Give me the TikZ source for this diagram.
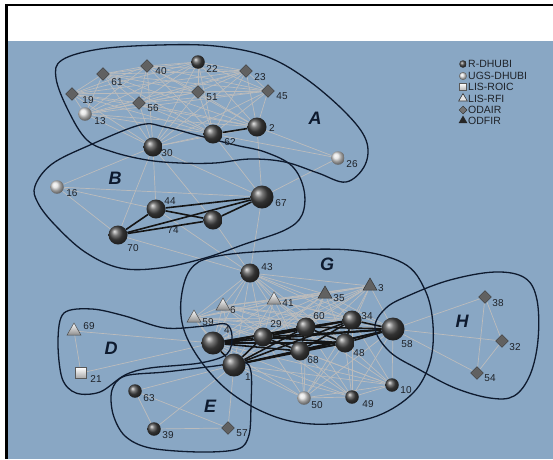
\documentclass[tikz,border=0pt]{standalone}
\usepackage{fontspec}
\setmainfont{Liberation Sans}
\usetikzlibrary{shapes.geometric}
\definecolor{bgblue}{RGB}{137,167,196}
\definecolor{hullc}{RGB}{14,26,46}
\definecolor{edgeg}{RGB}{188,188,188}
\definecolor{numc}{RGB}{30,34,40}
\pgfdeclarelayer{bg}
\pgfdeclarelayer{edges}
\pgfdeclarelayer{hulls}
\pgfsetlayers{bg,edges,hulls,main}
\tikzset{
  ballS/.style={circle, inner sep=0pt, minimum size=13.5pt, shading=ball, ball color=black!72},
  ballM/.style={circle, inner sep=0pt, minimum size=19pt, shading=ball, ball color=black!72},
  ballL/.style={circle, inner sep=0pt, minimum size=23pt, shading=ball, ball color=black!72},
  wballS/.style={circle, inner sep=0pt, minimum size=13.5pt, shading=ball, ball color=white!75!gray},
  dia/.style={diamond, inner sep=0pt, minimum size=13pt, fill=black!62, draw=black!78, line width=0.4pt},
  triL/.style={regular polygon, regular polygon sides=3, inner sep=0pt, minimum size=16pt, draw=black!70, line width=0.5pt, top color=white, bottom color=black!45},
  triD/.style={regular polygon, regular polygon sides=3, inner sep=0pt, minimum size=16pt, draw=black!80, line width=0.5pt, fill=black!62},
  sqL/.style={rectangle, inner sep=0pt, minimum size=11pt, draw=black!65, line width=0.5pt, top color=white, bottom color=black!35},
  num/.style={font=\fontsize{10}{10}\selectfont, text=numc, inner sep=0pt},
  clab/.style={font=\fontsize{18}{18}\selectfont\bfseries\itshape, text=hullc, inner sep=0pt},
  legt/.style={font=\fontsize{10.5}{10.5}\selectfont, text=numc, inner sep=0pt, anchor=west},
  ge/.style={draw=edgeg, line width=0.7pt},
  be/.style={draw=black!92, line width=1.6pt},
  hull/.style={draw=hullc, line width=1.3pt},
}
\begin{document}
\begin{tikzpicture}[x=1pt,y=-1pt]
\useasboundingbox (0,0) rectangle (553,459);
% ---------------- nodes ----------------
% A
\node[dia] (n61) at (103,74) {};
\node[dia] (n40) at (147,66) {};
\node[ballS] (n22) at (198,62) {};
\node[dia] (n23) at (246,71) {};
\node[dia] (n19) at (72,94) {};
\node[dia] (n51) at (198,92) {};
\node[dia] (n45) at (268,91) {};
\node[dia] (n56) at (139,103) {};
\node[wballS] (n13) at (85,114) {};
\node[ballM] (n62) at (213,134) {};
\node[ballM] (n2) at (257,127) {};
\node[ballM] (n30) at (153,147) {};
\node[wballS] (n26) at (338,158) {};
% B
\node[wballS] (n16) at (57,187) {};
\node[ballM] (n44) at (156,209) {};
\node[ballL] (n67) at (262,197) {};
\node[ballM] (n74) at (213,220) {};
\node[ballM] (n70) at (118,235) {};
% G
\node[ballM] (n43) at (250,273) {};
\node[triL] (n6) at (223,306) {};
\node[triL] (n41) at (274,300) {};
\node[triD] (n35) at (325,294) {};
\node[triD] (n3) at (370,286) {};
\node[triL] (n59) at (194,318) {};
\node[ballL] (n4) at (213,343) {};
\node[ballM] (n29) at (263,337) {};
\node[ballM] (n60) at (306,327) {};
\node[ballM] (n34) at (352,320) {};
\node[ballL] (n58) at (393,329) {};
\node[ballM] (n68) at (300,351) {};
\node[ballM] (n48) at (345,343) {};
\node[ballL] (n1) at (234,365) {};
\node[wballS] (n50) at (304,398) {};
\node[ballS] (n49) at (352,397) {};
\node[ballS] (n10) at (392,385) {};
% D
\node[triL] (n69) at (74,331) {};
\node[sqL] (n21) at (81,373) {};
% E
\node[ballS] (n63) at (135,391) {};
\node[ballS] (n39) at (154,429) {};
\node[dia] (n57) at (228,428) {};
% H
\node[dia] (n38) at (485,297) {};
\node[dia] (n32) at (502,341) {};
\node[dia] (n54) at (477,373) {};
% ---------------- number labels ----------------
\node[num] (l61) at (117,82) {61};
\node[num] (l40) at (161,71) {40};
\node[num] (l22) at (212,69) {22};
\node[num] (l23) at (260,77) {23};
\node[num] (l19) at (88,100) {19};
\node[num] (l51) at (212,97) {51};
\node[num] (l45) at (282,96) {45};
\node[num] (l56) at (153,108) {56};
\node[num] (l13) at (100,121) {13};
\node[num] (l62) at (230,142) {62};
\node[num] (l2) at (272,128) {2};
\node[num] (l30) at (167,153) {30};
\node[num] (l26) at (352,164) {26};
\node[num] (l16) at (72,193) {16};
\node[num] (l44) at (170,201) {44};
\node[num] (l67) at (281,203) {67};
\node[num] (l74) at (173,230) {74};
\node[num] (l70) at (133,248) {70};
\node[num] (l43) at (267,267) {43};
\node[num] (l6) at (233,310) {6};
\node[num] (l41) at (288,303) {41};
\node[num] (l35) at (339,298) {35};
\node[num] (l3) at (381,288) {3};
\node[num] (l59) at (208,322) {59};
\node[num] (l4) at (227,330) {4};
\node[num] (l29) at (276,324) {29};
\node[num] (l60) at (319,316) {60};
\node[num] (l34) at (367,316) {34};
\node[num] (l58) at (407,344) {58};
\node[num] (l68) at (313,360) {68};
\node[num] (l48) at (359,353) {48};
\node[num] (l1) at (248,377) {1};
\node[num] (l50) at (317,405) {50};
\node[num] (l49) at (368,404) {49};
\node[num] (l10) at (406,390) {10};
\node[num] (l69) at (89,326) {69};
\node[num] (l21) at (96,379) {21};
\node[num] (l63) at (149,398) {63};
\node[num] (l39) at (168,435) {39};
\node[num] (l57) at (242,433) {57};
\node[num] (l38) at (498,303) {38};
\node[num] (l32) at (515,347) {32};
\node[num] (l54) at (490,378) {54};
% cluster letters
\node[clab] (cA) at (315,118) {A};
\node[clab] (cB) at (115,178) {B};
\node[clab] (cG) at (327,264) {G};
\node[clab] (cD) at (111,348) {D};
\node[clab] (cE) at (210,406) {E};
\node[clab] (cH) at (462,321) {H};
% legend
\node[circle, inner sep=0pt, minimum size=7.5pt, shading=ball, ball color=black!72] (g1) at (463,64) {};
\node[circle, inner sep=0pt, minimum size=7.5pt, draw=black!60, line width=0.4pt, shading=ball, ball color=white!80!gray] (g2) at (463,76) {};
\node[rectangle, inner sep=0pt, minimum size=7pt, draw=black!65, line width=0.5pt, top color=white, bottom color=black!30] (g3) at (463,87) {};
\node[regular polygon, regular polygon sides=3, inner sep=0pt, minimum size=10pt, draw=black!80, line width=0.6pt, fill=white!80!gray] (g4) at (463,98.5) {};
\node[diamond, inner sep=0pt, minimum size=8pt, draw=black!80, line width=0.5pt, fill=black!55] (g5) at (463,110) {};
\node[regular polygon, regular polygon sides=3, inner sep=0pt, minimum size=10pt, fill=black!85] (g6) at (463,120.5) {};
\node[legt] (t1) at (468,64) {R-DHUBI};
\node[legt] (t2) at (468,76) {UGS-DHUBI};
\node[legt] (t3) at (468,87) {LIS-ROIC};
\node[legt] (t4) at (468,98.5) {LIS-RFI};
\node[legt] (t5) at (468,110) {ODAIR};
\node[legt] (t6) at (468,121) {ODFIR};
% ---------------- background ----------------
\begin{pgfonlayer}{bg}
\fill[white] (0,0) rectangle (553,459);
\fill[bgblue] (7.5,41) rectangle (553,459);
\draw[black, line width=2.2pt] (5.2,5) -- (553,5);
\draw[black, line width=2.4pt] (6.3,4) -- (6.3,459);
\end{pgfonlayer}
% ---------------- gray edges ----------------
\begin{pgfonlayer}{edges}
\foreach \a/\l in {61/{40,22,23,19,51,45,56,13}, 40/{22,23,19,51,45,56,13}, 22/{23,19,51,45,56,13}, 23/{19,51,45,56,13}, 19/{51,45,56,13}, 51/{45,56,13}, 45/{56,13}, 56/{13}}{
  \foreach \b in \l {\draw[ge] (n\a) -- (n\b);}
}
\foreach \a in {30,62,2}{
  \foreach \b in {61,40,22,23,19,51,45,56,13} {\draw[ge] (n\a) -- (n\b);}
}
\foreach \a/\b in {30/62, 30/2, 26/62, 26/2, 26/67, 30/16, 30/44, 30/70, 30/74, 30/67, 16/67, 16/44, 16/70, 62/67, 2/67, 67/43, 44/43, 70/43, 74/43,
  69/21, 69/4, 21/4, 63/1, 63/57, 63/39, 39/57, 39/1, 57/1,
  58/38, 58/32, 58/54, 38/32, 38/54, 32/54, 50/49, 49/10, 50/10}
  {\draw[ge] (n\a) -- (n\b);}
\foreach \a in {59,6,41,35,3}{
  \draw[ge] (n43) -- (n\a);
  \foreach \b in {4,1,29,60,34,58,68,48} {\draw[ge] (n\a) -- (n\b);}
}
\foreach \a/\b in {59/6, 59/41, 59/35, 59/3, 6/41, 6/35, 6/3, 41/35, 41/3, 35/3}
  {\draw[ge] (n\a) -- (n\b);}
\foreach \b in {4,1,29,60,34,58,68,48} {\draw[ge] (n43) -- (n\b);}
\foreach \a in {50,49,10}{
  \foreach \b in {4,1,29,60,34,58,68,48} {\draw[ge] (n\a) -- (n\b);}
}
% black edges
\draw[be] (n62) -- (n2);
\foreach \a/\b in {44/67, 44/74, 70/44, 70/67, 70/74, 74/67}
  {\draw[be] (n\a) -- (n\b);}
\foreach \a/\l in {4/{1,29,60,34,58,68,48}, 1/{29,60,34,58,68,48}, 29/{60,34,58,68,48}, 60/{34,58,68,48}, 34/{58,68,48}, 58/{68,48}, 68/{48}}{
  \foreach \b in \l {\draw[be] (n\a) -- (n\b);}
}
\end{pgfonlayer}
% ---------------- cluster hulls ----------------
\begin{pgfonlayer}{hulls}
% A
\draw[hull] plot[smooth cycle, tension=0.6] coordinates {(62,60) (100,49) (160,45) (215,46) (265,56) (305,78) (345,112) (366,140) (365,165) (346,182) (318,173) (285,162) (250,159) (215,163) (180,163) (147,160) (113,152) (87,140) (68,110) (56,78)};
% B
\draw[hull] plot[smooth cycle, tension=0.6] coordinates {(35,186) (52,164) (90,145) (140,125) (165,127) (200,136) (235,145) (265,152) (292,166) (304,190) (302,215) (285,230) (245,244) (205,258) (160,268) (120,268) (85,252) (55,225) (38,203)};
% G
\draw[hull] plot[smooth cycle, tension=0.6] coordinates {(181,300) (190,270) (213,257) (270,251) (350,250) (403,263) (425,290) (433,325) (430,362) (413,393) (377,416) (330,424) (290,421) (255,408) (225,388) (200,360) (184,330)};
% H
\draw[hull] plot[smooth cycle, tension=0.6] coordinates {(375,328) (386,308) (410,295) (450,280) (495,272) (525,278) (537,300) (538,340) (530,375) (514,396) (490,398) (455,388) (420,370) (390,352)};
% D
\draw[hull] plot[smooth cycle, tension=0.55] coordinates {(64,313) (92,309) (125,316) (165,328) (205,326) (226,324) (232,336) (227,354) (200,363) (150,368) (125,375) (100,392) (76,393) (62,378) (58,340)};
% E
\draw[hull] plot[smooth cycle, tension=0.55] coordinates {(112,390) (125,376) (165,372) (215,366) (243,362) (251,372) (251,405) (249,435) (238,449) (200,452) (150,448) (125,436) (113,414)};
\end{pgfonlayer}
\end{tikzpicture}
\end{document}
